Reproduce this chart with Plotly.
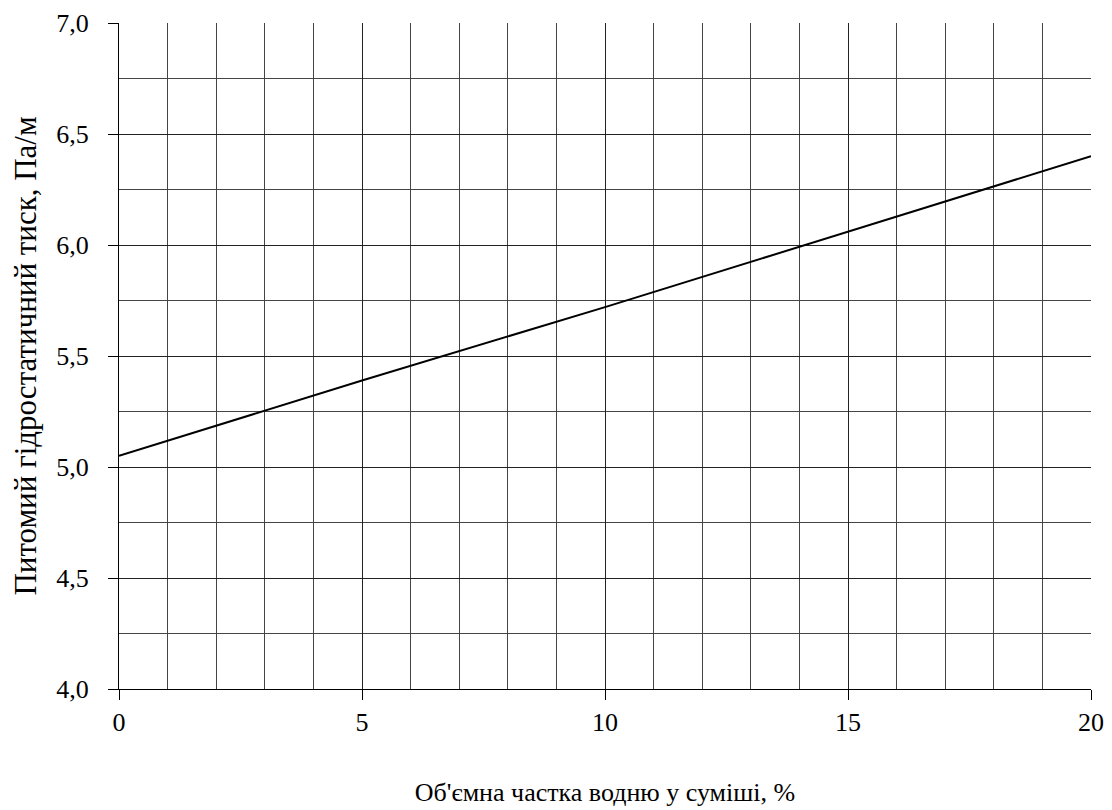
import plotly.graph_objects as go

# Data
water_fraction = [0, 5, 10, 15, 20]          # %
pressure = [5.05, 5.39, 5.72, 6.06, 6.40]    # Pa/m

x_title = "Об'ємна частка водню у суміші, %"
y_title = "Питомий гідростатичний тиск, Па/м"

FONT = "Liberation Serif"
FS = 26

fig = go.Figure()
fig.add_trace(go.Scatter(
    x=water_fraction, y=pressure, mode="lines",
    line=dict(color="black", width=2), showlegend=False,
))

# page body has an 8px margin, so offset the plot area accordingly
fig.update_layout(
    width=1112, height=810,
    margin=dict(l=111, r=29, t=15, b=129, autoexpand=False),
    paper_bgcolor="white", plot_bgcolor="white",
    separators=", ",
    font=dict(family=FONT, size=FS, color="black"),
)

fig.update_xaxes(
    range=[0, 20], dtick=5, tick0=0,
    showgrid=True, gridcolor="#222", gridwidth=1,
    minor=dict(dtick=1, showgrid=True, gridcolor="#444", gridwidth=1),
    ticks="outside", ticklen=10, tickcolor="black", tickwidth=1,
    showline=True, linecolor="black", linewidth=1,
    zeroline=False, automargin=False,
    ticklabelstandoff=0,
    tickfont=dict(family=FONT, size=FS),
    title=dict(text=x_title, font=dict(family=FONT, size=FS), standoff=46),
)
fig.update_yaxes(
    range=[4, 7], dtick=0.5, tick0=4, tickformat=".1f",
    showgrid=True, gridcolor="#222", gridwidth=1,
    minor=dict(dtick=0.25, showgrid=True, gridcolor="#444", gridwidth=1),
    ticks="outside", ticklen=10, tickcolor="black", tickwidth=1,
    showline=True, linecolor="black", linewidth=1,
    zeroline=False, automargin=False,
    ticklabelstandoff=14,
    tickfont=dict(family=FONT, size=FS),
    title=dict(text=y_title, font=dict(family=FONT, size=31), standoff=15),
)

fig.write_html("out.html")
